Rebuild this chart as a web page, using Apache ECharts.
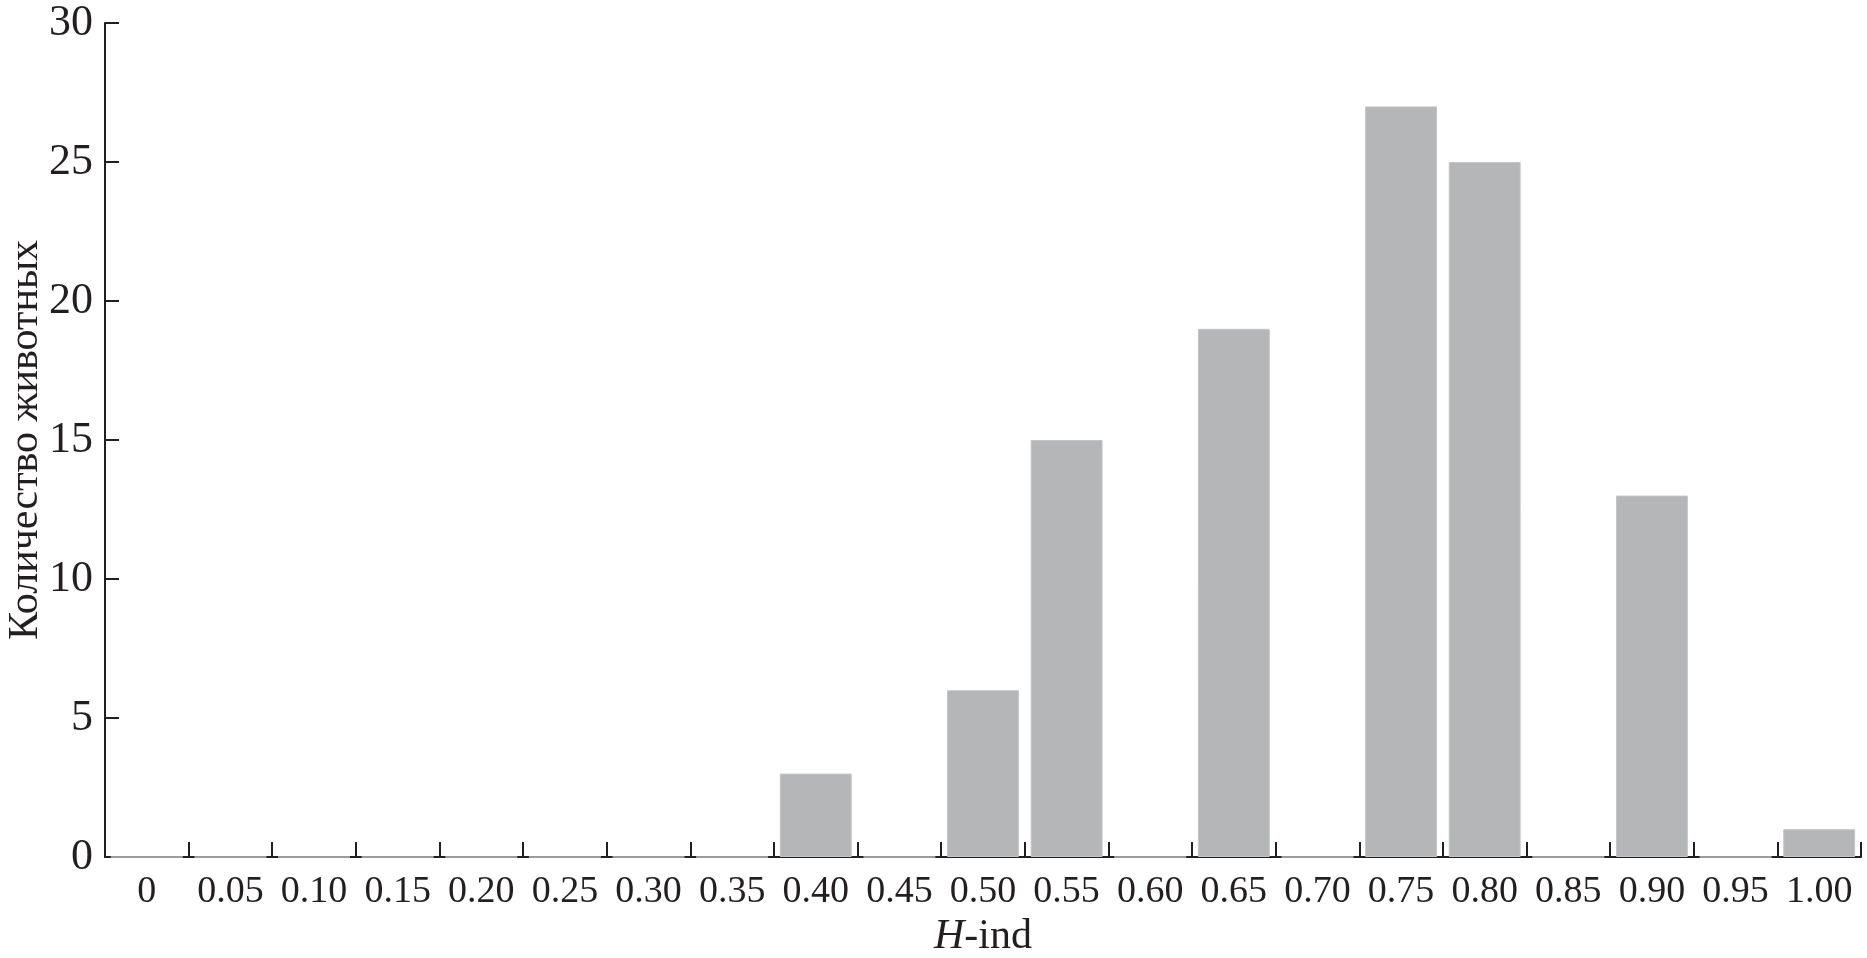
<!DOCTYPE html>
<html>
<head>
<meta charset="utf-8">
<script src="https://cdn.jsdelivr.net/npm/echarts@6/dist/echarts.min.js"></script>
<style>html,body{margin:0;padding:0;background:#fff;}#c{width:1867px;height:958px;}</style>
</head>
<body>
<div id="c"></div>
<script>
const categories = ['0','0.05','0.10','0.15','0.20','0.25','0.30','0.35','0.40','0.45','0.50','0.55','0.60','0.65','0.70','0.75','0.80','0.85','0.90','0.95','1.00'];
const counts = [0,0,0,0,0,0,0,0,3,0,6,15,0,19,0,27,25,0,13,0,1];
const yTicks = {min: 0, max: 30, interval: 5};
const xTitle = 'H-ind';
const yTitle = 'Количество животных';

const font = '"Liberation Serif", "DejaVu Serif", serif';
const ink = '#231f20';
const chart = echarts.init(document.getElementById('c'), null, {renderer: 'canvas'});
chart.setOption({
  animation: false,
  backgroundColor: '#ffffff',
  grid: {left: 105, right: 6, top: 23, bottom: 101, containLabel: false, outerBoundsMode: 'none'},
  xAxis: {
    type: 'category',
    data: categories,
    boundaryGap: true,
    name: '{i|H}{n|-ind}',
    nameLocation: 'middle',
    nameGap: 56,
    nameTextStyle: {
      rich: {
        i: {fontFamily: font, fontSize: 42, fontStyle: 'italic', color: ink},
        n: {fontFamily: font, fontSize: 42, color: ink}
      }
    },
    axisLine: {lineStyle: {color: ink, width: 2}},
    axisTick: {show: true, inside: true, length: 15, alignWithLabel: false, interval: 0, lineStyle: {color: ink, width: 2}},
    axisLabel: {interval: 0, fontFamily: font, fontSize: 38, color: ink, margin: 16},
    splitLine: {show: false}
  },
  yAxis: {
    type: 'value',
    min: yTicks.min, max: yTicks.max, interval: yTicks.interval,
    name: yTitle,
    nameLocation: 'middle',
    nameGap: 58,
    nameMoveOverlap: false,
    nameRotate: 90,
    nameTextStyle: {fontFamily: font, fontSize: 42, color: ink},
    axisLine: {show: true, lineStyle: {color: ink, width: 2}},
    axisTick: {show: true, inside: true, length: 14, lineStyle: {color: ink, width: 2}},
    axisLabel: {fontFamily: font, fontSize: 44, color: ink, margin: 12},
    splitLine: {show: false}
  },
  series: [{
    type: 'bar',
    data: counts,
    barCategoryGap: '14%',
    itemStyle: {color: '#b5b6b8', borderColor: '#c4c5c7', borderWidth: 1}
  }]
});
</script>
</body>
</html>
